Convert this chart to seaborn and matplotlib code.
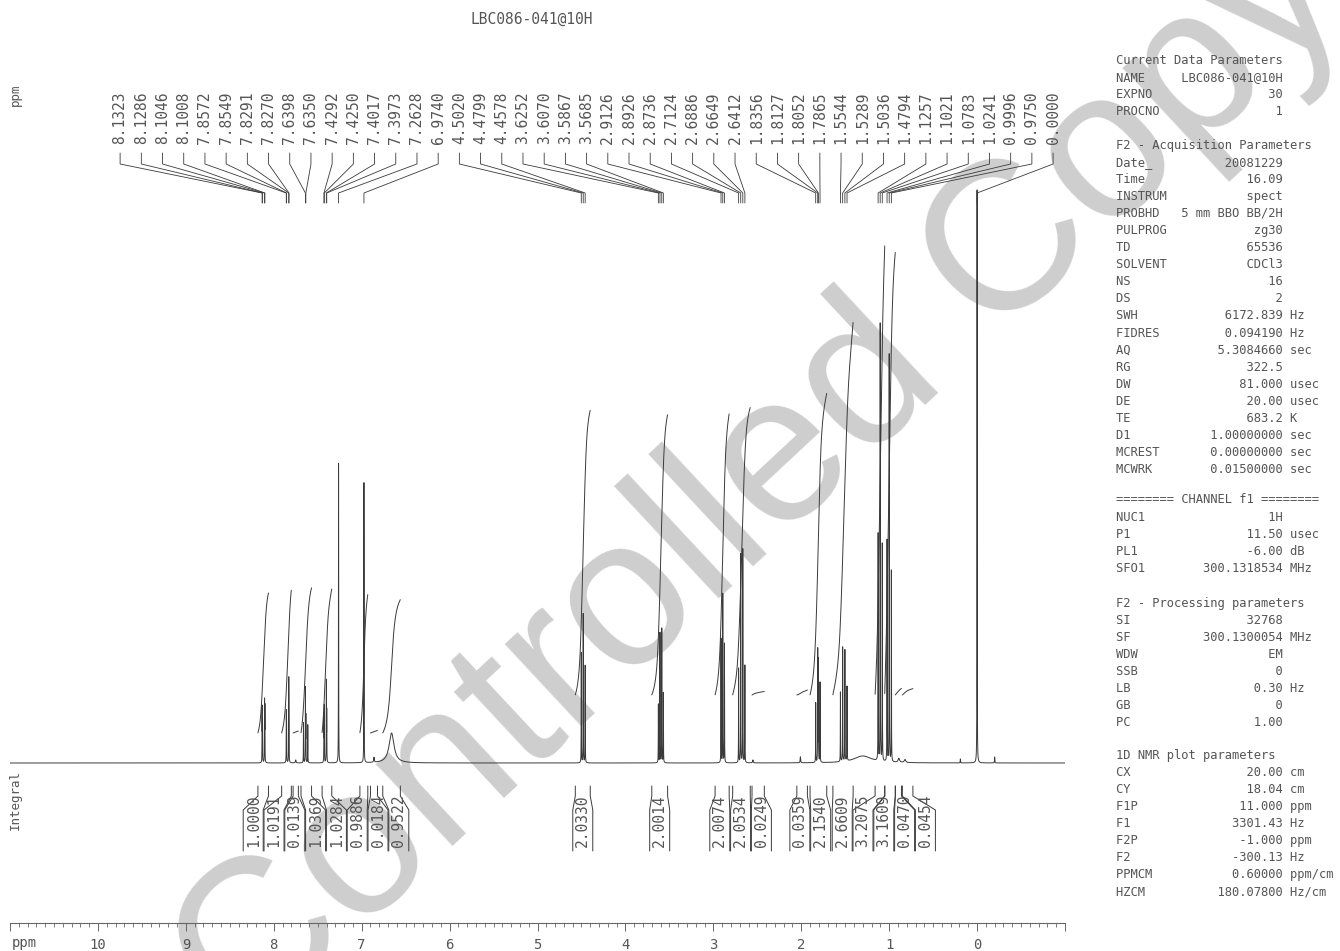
import numpy as np
import pandas as pd
import matplotlib
matplotlib.use("Agg")
import matplotlib.pyplot as plt
import seaborn as sns

# ---------------- data ----------------
title = "LBC086-041@10H"

# labelled lines (ppm) and their heights (intensity units)
peak_ppm = [8.1323, 8.1286, 8.1046, 8.1008, 7.8572, 7.8549, 7.8291, 7.8270,
            7.6398, 7.6350, 7.4292, 7.4250, 7.4017, 7.3973, 7.2628, 6.9740,
            4.5020, 4.4799, 4.4578, 3.6252, 3.6070, 3.5867, 3.5685,
            2.9126, 2.8926, 2.8736, 2.7124, 2.6886, 2.6649, 2.6412,
            1.8356, 1.8127, 1.8052, 1.7865, 1.5544, 1.5289, 1.5036, 1.4794,
            1.1257, 1.1021, 1.0783, 1.0241, 0.9996, 0.9750, 0.0000]
peak_height = [55, 50, 60, 55, 45, 38, 72, 55,
               76, 45, 45, 55, 82, 50, 308, 280,
               110, 150, 100, 60, 130, 138, 70,
               125, 170, 120, 95, 210, 215, 100,
               60, 115, 105, 80, 70, 115, 112, 75,
               233, 440, 223, 223, 410, 191, 573]

# unlabelled / broad signals
minor_ppm = [7.6620, 7.6130, 7.75, 6.86, 6.66, 2.55, 2.01, 1.30, 0.89, 0.82, 0.19, -0.20]
minor_height = [40, 38, 3, 5, 30, 3, 6, 7, 4, 3, 4, 6]
minor_width = [0.0012, 0.0012, 0.004, 0.004, 0.034, 0.004, 0.003, 0.12, 0.01, 0.01, 0.002, 0.002]

# integral regions
int_from = [8.18, 7.91, 7.78, 7.69, 7.45, 7.02, 6.90, 6.76,
            4.57, 3.70, 2.98, 2.78, 2.56, 2.05, 1.90, 1.64, 1.16, 1.05, 0.93, 0.85]
int_to = [8.06, 7.80, 7.72, 7.57, 7.34, 6.93, 6.82, 6.56,
          4.40, 3.52, 2.82, 2.58, 2.42, 1.93, 1.71, 1.41, 1.05, 0.93, 0.86, 0.73]
int_value = [1.0000, 1.0191, 0.0139, 1.0369, 1.0284, 0.9886, 0.0184, 0.9522,
             2.0330, 2.0014, 2.0074, 2.0534, 0.0249, 0.0359, 2.1540, 2.6609,
             3.2075, 3.1609, 0.0470, 0.0454]

axis_ticks = list(range(11, -2, -1))

current_params = [("NAME", "LBC086-041@10H", ""), ("EXPNO", "30", ""), ("PROCNO", "1", "")]
acq_params = [("Date_", "20081229", ""), ("Time", "16.09", ""), ("INSTRUM", "spect", ""),
              ("PROBHD", "5 mm BBO BB/2H", ""), ("PULPROG", "zg30", ""), ("TD", "65536", ""),
              ("SOLVENT", "CDCl3", ""), ("NS", "16", ""), ("DS", "2", ""),
              ("SWH", "6172.839", "Hz"), ("FIDRES", "0.094190", "Hz"), ("AQ", "5.3084660", "sec"),
              ("RG", "322.5", ""), ("DW", "81.000", "usec"), ("DE", "20.00", "usec"),
              ("TE", "683.2", "K"), ("D1", "1.00000000", "sec"), ("MCREST", "0.00000000", "sec"),
              ("MCWRK", "0.01500000", "sec")]
channel_params = [("NUC1", "1H", ""), ("P1", "11.50", "usec"), ("PL1", "-6.00", "dB"),
                  ("SFO1", "300.1318534", "MHz")]
proc_params = [("SI", "32768", ""), ("SF", "300.1300054", "MHz"), ("WDW", "EM", ""),
               ("SSB", "0", ""), ("LB", "0.30", "Hz"), ("GB", "0", ""), ("PC", "1.00", "")]
plot_params = [("CX", "20.00", "cm"), ("CY", "18.04", "cm"), ("F1P", "11.000", "ppm"),
               ("F1", "3301.43", "Hz"), ("F2P", "-1.000", "ppm"), ("F2", "-300.13", "Hz"),
               ("PPMCM", "0.60000", "ppm/cm"), ("HZCM", "180.07800", "Hz/cm")]

# ---------------- layout helpers ----------------
W, H = 1340, 951
BASE = 763            # baseline row
ZERO = 977            # column of 0 ppm
PPM_PX = 87.92
INK = "#3a3a3a"
TXT = "#555555"


def px2ppm(px):
    return (ZERO - px) / PPM_PX


def row(py):
    return BASE - py


def spread(targets, gap):
    clusters = [[t] for t in targets]

    def place(c):
        m = np.mean(c)
        return [m + (i - (len(c) - 1) / 2) * gap for i in range(len(c))]

    merged = True
    while merged:
        merged = False
        for i in range(len(clusters) - 1):
            if place(clusters[i + 1])[0] - place(clusters[i])[-1] < gap - 1e-9:
                clusters[i] = clusters[i] + clusters[i + 1]
                del clusters[i + 1]
                merged = True
                break
    out = []
    for c in clusters:
        out += place(c)
    return out


# ---------------- spectrum ----------------
ppm = np.arange(11.0, -1.0001, -0.0005)
spec = np.zeros_like(ppm)
spec_int = np.zeros_like(ppm)
for p, h in zip(peak_ppm, peak_height):
    spec += h / (1 + ((ppm - p) / 0.0012) ** 2)
    spec_int += h * 0.0012 / 0.02 / (1 + ((ppm - p) / 0.02) ** 2)
for p, h, w in zip(minor_ppm, minor_height, minor_width):
    spec += h / (1 + ((ppm - p) / w) ** 2)
    wb = max(w, 0.02)
    spec_int += h * w / wb / (1 + ((ppm - p) / wb) ** 2)

df = pd.DataFrame({"ppm": ppm, "intensity": spec})

sns.set_theme(style="white")
plt.rcParams["font.family"] = ["DejaVu Sans Mono", "DejaVu Sans"]

fig = plt.figure(figsize=(W / 100, H / 100), dpi=100)
ax = fig.add_axes([10 / W, 0, (1065 - 10) / W, 1])
ax.patch.set_visible(False)

sns.lineplot(data=df, x="ppm", y="intensity", ax=ax, color=INK, linewidth=0.7,
             estimator=None, sort=False, zorder=3)
ax.set_xlim(11, -1)
ax.set_ylim(row(H), row(0))

# ---------------- integrals ----------------
K = 140
for a, b, v in zip(int_from, int_to, int_value):
    m = (ppm <= a) & (ppm >= b)
    c = np.cumsum(spec_int[m])
    c = c / c[-1]
    off = 30 if a > 5 else 68
    ax.plot(ppm[m], off + c * v * K, color=INK, lw=0.7, zorder=3)

centers_px = [ZERO - (a + b) / 2 * PPM_PX for a, b in zip(int_from, int_to)]
label_px = spread(centers_px, 20.8)
half = 10 / PPM_PX
for a, b, v, lp in zip(int_from, int_to, int_value, label_px):
    xc = px2ppm(lp)
    ax.plot([a, a, xc + half, xc + half], [row(786), row(796), row(810), row(851)],
            color=INK, lw=0.7, zorder=3)
    ax.plot([b, b, xc - half, xc - half], [row(786), row(796), row(810), row(851)],
            color=INK, lw=0.7, zorder=3)
    ax.text(xc, row(821), f"{v:.4f}", rotation=90, ha="center", va="center",
            fontsize=10.5, color=TXT)

# ---------------- peak labels ----------------
lab_x = np.linspace(px2ppm(120), px2ppm(1053), len(peak_ppm))
for p, lx in zip(peak_ppm, lab_x):
    ax.plot([lx, lx, p, p], [row(153), row(164), row(193), row(203)],
            color=INK, lw=0.6, zorder=3)
    ax.text(lx, row(144), f"{p:.4f}", rotation=90, ha="center", va="bottom",
            fontsize=10.5, color=TXT)

# ---------------- ruler ----------------
for s in ["top", "left", "right"]:
    ax.spines[s].set_visible(False)
ax.spines["bottom"].set_position(("data", row(923)))
ax.spines["bottom"].set_color("#666666")
ax.spines["bottom"].set_linewidth(0.8)
ax.set_xticks(axis_ticks)
ax.set_xticklabels(["" if t in (11, -1) else str(t) for t in axis_ticks])
ax.set_xticks(np.round(np.arange(11, -1.001, -0.1), 1), minor=True)
ax.tick_params(axis="x", which="major", direction="out", length=6, width=0.7,
               color="#666666", labelsize=10, labelcolor=TXT, pad=5, bottom=True)
ax.tick_params(axis="x", which="minor", direction="out", length=3, width=0.6,
               color="#666666", bottom=True)
ax.set_yticks([])
ax.set_xlabel("")
ax.set_ylabel("")

# ---------------- texts ----------------
fig.text(24 / W, 1 - 943 / H, "ppm", ha="center", va="center", fontsize=10, color=TXT)
fig.text(15 / W, 1 - 95 / H, "ppm", ha="center", va="center", rotation=90,
         fontsize=9, color=TXT)
fig.text(15 / W, 1 - 800 / H, "Integral", ha="center", va="center", rotation=90,
         fontsize=9, color=TXT)
fig.text(471 / W, 1 - 19 / H, title, ha="left", va="center", fontsize=10.5, color=TXT)

sections = [("Current Data Parameters", current_params, 60),
            ("F2 - Acquisition Parameters", acq_params, 145),
            ("======== CHANNEL f1 ========", channel_params, 500),
            ("F2 - Processing parameters", proc_params, 603),
            ("1D NMR plot parameters", plot_params, 755)]
for head, items, y0 in sections:
    fig.text(1116 / W, 1 - y0 / H, head, ha="left", va="center", fontsize=8.7, color=TXT)
    for k, (name, val, unit) in enumerate(items, start=1):
        line = name + val.rjust(23 - len(name)) + ((" " + unit) if unit else "")
        fig.text(1116 / W, 1 - (y0 + k * 17.1) / H, line, ha="left", va="center",
                 fontsize=8.7, color=TXT)

# watermark
fig.text(245 / W, 1 - 1040 / H, "Controlled Copy", rotation=43, rotation_mode="anchor",
         ha="left", va="baseline", fontsize=152, color="#cecece",
         family="Liberation Sans", zorder=-1)

fig.savefig("out.png", dpi=100)
